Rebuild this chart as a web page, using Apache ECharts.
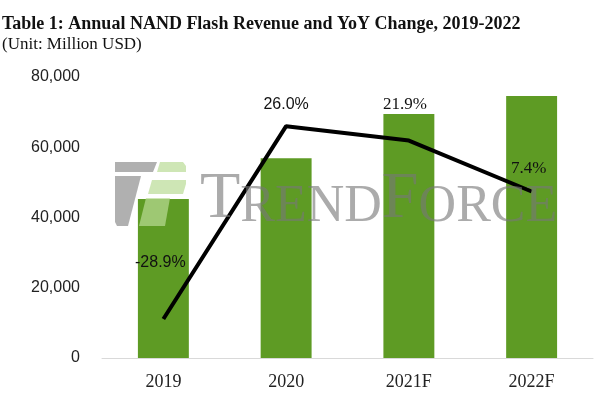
<!DOCTYPE html>
<html>
<head>
<meta charset="utf-8">
<script src="https://cdn.jsdelivr.net/npm/echarts@6/dist/echarts.min.js"></script>
<style>
  html, body { margin: 0; padding: 0; background: #fff; }
  #main { width: 604px; height: 398px; }
</style>
</head>
<body>
<div id="main"></div>
<script>
var myChart = echarts.init(document.getElementById('main'));

var years = ['2019', '2020', '2021F', '2022F'];
var revenue = [45260, 56850, 69470, 74590];
var yoy = [-28.9, 26.0, 21.9, 7.4];
var yTicks = [0, 20000, 40000, 60000, 80000];

// label nudges for the YoY line (x, y)
var labelOffsets = [[-3, -43], [0, -9], [-4, -23], [-3, -9]];
var labelFonts = ['Liberation Sans', 'Liberation Sans', 'Liberation Serif', 'Liberation Serif'];
var labelSizes = [16, 16, 17, 17];

var lineData = yoy.map(function (v, i) {
    return {
        value: v,
        label: { offset: labelOffsets[i], fontFamily: labelFonts[i], fontSize: labelSizes[i] }
    };
});

var logoGray = 'rgba(150,150,150,0.75)';
var logoGreen = 'rgba(185,220,150,0.7)';
var markGray = 'rgba(120,120,120,0.62)';

var option = {
    animation: false,
    backgroundColor: '#fff',
    title: {
        text: 'Table 1: Annual NAND Flash Revenue and YoY Change, 2019-2022',
        subtext: '(Unit: Million USD)',
        left: 2,
        top: 15,
        itemGap: 3,
        padding: 0,
        textStyle: {
            fontFamily: 'Liberation Serif',
            fontWeight: 'bold',
            fontSize: 18,
            color: '#111'
        },
        subtextStyle: {
            fontFamily: 'Liberation Serif',
            fontSize: 17,
            color: '#111'
        }
    },
    grid: {
        left: 102,
        right: 11,
        top: 77,
        bottom: 40
    },
    xAxis: {
        type: 'category',
        data: years,
        axisTick: { show: false },
        axisLine: { lineStyle: { color: '#d9d9d9', width: 1 } },
        axisLabel: {
            margin: 15,
            fontFamily: 'Liberation Serif',
            fontSize: 18,
            color: '#222'
        }
    },
    yAxis: [
        {
            type: 'value',
            min: yTicks[0],
            max: yTicks[yTicks.length - 1],
            interval: yTicks[1] - yTicks[0],
            axisLine: { show: false },
            axisTick: { show: false },
            splitLine: { show: false },
            axisLabel: {
                margin: 22,
                fontFamily: 'Liberation Sans',
                fontSize: 16,
                color: '#222',
                formatter: function (v) { return v.toLocaleString('en-US'); }
            }
        },
        {
            type: 'value',
            min: -40,
            max: 40,
            show: false,
            splitLine: { show: false }
        }
    ],
    graphic: [
        { type: 'polygon', z: 100, silent: true, shape: { points: [[115, 162], [157, 162], [153, 172], [115, 172]] }, style: { fill: logoGray } },
        { type: 'polygon', z: 100, silent: true, shape: { points: [[115, 176], [141, 176], [128, 226], [117, 226], [115, 222]] }, style: { fill: logoGray } },
        { type: 'polygon', z: 100, silent: true, shape: { points: [[160, 162], [183, 162], [186, 166], [186, 172], [157, 172]] }, style: { fill: logoGreen } },
        { type: 'polygon', z: 100, silent: true, shape: { points: [[152, 180], [186, 180], [186, 184], [183, 194], [148, 194]] }, style: { fill: logoGreen } },
        { type: 'polygon', z: 100, silent: true, shape: { points: [[146, 198], [170, 198], [165, 226], [139, 226]] }, style: { fill: logoGreen } },
        {
            type: 'text',
            z: 100,
            silent: true,
            left: 200,
            top: 167,
            style: {
                text: '{b|T}{s|REND}{b|F}{s|ORCE}',
                rich: {
                    b: { fontFamily: 'Liberation Serif', fontSize: 66, lineHeight: 60, fill: markGray, verticalAlign: 'bottom' },
                    s: { fontFamily: 'Liberation Serif', fontSize: 52, lineHeight: 60, fill: markGray, verticalAlign: 'bottom' }
                }
            }
        }
    ],
    series: [
        {
            name: 'Revenue',
            type: 'bar',
            data: revenue,
            barWidth: '41.5%',
            itemStyle: { color: '#5e9b24' },
            z: 2
        },
        {
            name: 'YoY',
            type: 'line',
            yAxisIndex: 1,
            data: lineData,
            symbol: 'circle',
            symbolSize: 0,
            lineStyle: { color: '#000', width: 4 },
            z: 10,
            label: {
                show: true,
                position: 'top',
                fontSize: 16,
                color: '#111',
                formatter: function (p) { return p.value.toFixed(1) + '%'; }
            }
        }
    ]
};

myChart.setOption(option);
</script>
</body>
</html>
